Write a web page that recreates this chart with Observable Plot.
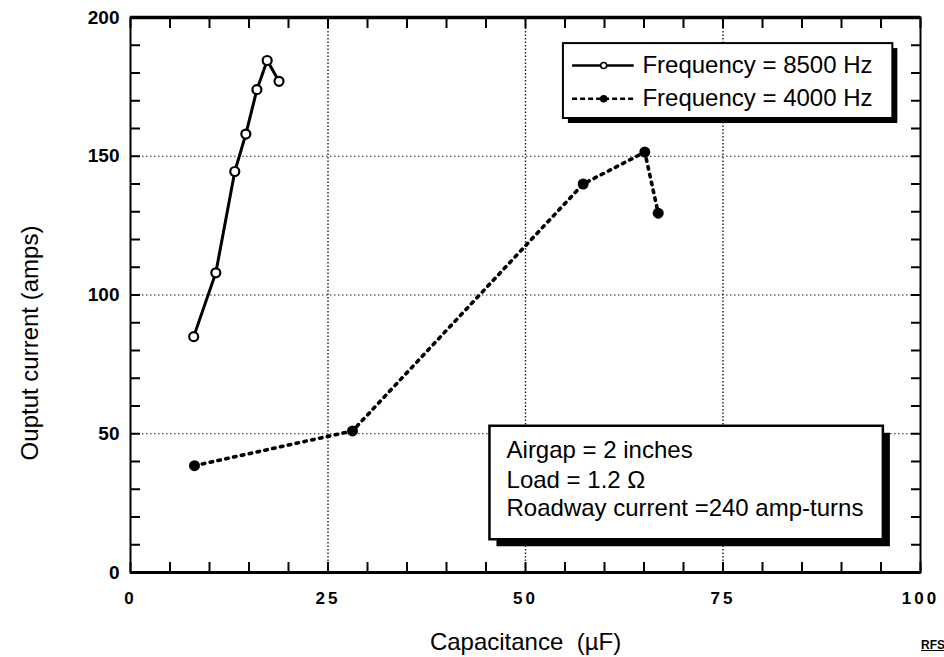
<!DOCTYPE html>
<html>
<head>
<meta charset="utf-8">
<script src="https://cdn.jsdelivr.net/npm/d3@7"></script>
<script src="https://cdn.jsdelivr.net/npm/@observablehq/plot@0.6"></script>
<style>
  html, body { margin: 0; padding: 0; background: #fff; }
  #chart { position: relative; width: 944px; height: 657px; overflow: hidden; }
  #chart svg { display: block; }
  #chart g[aria-label="x-axis tick label"] text { letter-spacing: 3px; }
  #stamp {
    position: absolute; left: 921px; top: 638px;
    font: bold 12px "Liberation Sans", Arial, sans-serif;
    text-decoration: underline; color: #000; white-space: nowrap;
  }
</style>
</head>
<body>
<div id="chart"><span id="stamp">RFS</span></div>
<script>
// Output current versus tuning capacitance, two drive frequencies
const seriesNames = ["Frequency = 8500 Hz", "Frequency = 4000 Hz"];

const cap8500  = [8.0, 10.8, 13.2, 14.6, 16.0, 17.3, 18.8];
const amps8500 = [85, 108, 144.5, 158, 174, 184.5, 177];

const cap4000  = [8.1, 28.1, 57.3, 65.1, 66.8];
const amps4000 = [38.5, 51, 140, 151.5, 129.5];

const xMajorTicks = [0, 25, 50, 75, 100];
const yMajorTicks = [0, 50, 100, 150, 200];
const xMinorTicks = d3.range(0, 101, 5);
const yMinorTicks = d3.range(0, 201, 10);

const xTitle = "Capacitance  (\u00b5F)";
const yTitle = "Ouptut current (amps)";
const noteLines = ["Airgap = 2 inches", "Load = 1.2 \u03a9", "Roadway current =240 amp-turns"];

const s8500 = cap8500.map((c, i) => ({c, a: amps8500[i]}));
const s4000 = cap4000.map((c, i) => ({c, a: amps4000[i]}));

// legend and note boxes, placed in data units
const legendBox = {x1: 54.8, x2: 96.5, y1: 163.6, y2: 190.6};
const legendSolid  = [{name: seriesNames[0], y: 182.7, x1: 55.9, x2: 63.7, xm: 59.9, xt: 64.8}];
const legendDashed = [{name: seriesNames[1], y: 170.7, x1: 55.9, x2: 63.7, xm: 59.9, xt: 64.8}];
const noteBox = {x1: 45.5, x2: 95.3, y1: 11.8, y2: 52.7};
const noteRows = noteLines.map((t, i) => ({t, x: 47.6, y: [44.0, 33.2, 23.2][i]}));

const font = "'Liberation Sans', Arial, Helvetica, sans-serif";
const noTickText = () => "";

const chart = Plot.plot({
  width: 944,
  height: 657,
  marginTop: 17,
  marginRight: 24,
  marginBottom: 85,
  marginLeft: 130,
  style: {fontFamily: font, background: "#fff", color: "#000", overflow: "visible"},
  x: {domain: [0, 100]},
  y: {domain: [0, 200]},
  marks: [
    // dotted grid
    Plot.gridY([50, 100, 150], {stroke: "#000", strokeOpacity: 0.9, strokeWidth: 1.2, strokeDasharray: "1.5,2.5"}),
    Plot.gridX([25, 50, 75], {stroke: "#000", strokeOpacity: 0.9, strokeWidth: 1.4, strokeDasharray: "1.5,2"}),

    // inward ticks on all four sides
    Plot.axisX({anchor: "bottom", ticks: xMinorTicks, tickSize: -10, strokeWidth: 2, tickFormat: noTickText, label: null}),
    Plot.axisX({anchor: "top", ticks: xMinorTicks, tickSize: -10, strokeWidth: 2, tickFormat: noTickText, label: null}),
    Plot.axisY({anchor: "left", ticks: yMinorTicks, tickSize: -10, strokeWidth: 2, tickFormat: noTickText, label: null}),
    Plot.axisY({anchor: "right", ticks: yMinorTicks, tickSize: -10, strokeWidth: 2, tickFormat: noTickText, label: null}),

    // tick labels
    Plot.axisX({anchor: "bottom", ticks: xMajorTicks, tickSize: 0, tickPadding: 19, fontSize: 17, fontWeight: "bold", label: null}),
    Plot.axisY({anchor: "left", ticks: yMajorTicks, tickSize: 0, tickPadding: 11, fontSize: 19, fontWeight: "bold", label: null}),

    // frame
    Plot.frame({stroke: "#000", strokeWidth: 2}),
    Plot.ruleY([200], {stroke: "#000", strokeWidth: 3.5}),
    Plot.ruleY([0], {stroke: "#000", strokeWidth: 3}),

    // axis titles
    Plot.text([xTitle], {frameAnchor: "bottom", dy: 70, lineAnchor: "middle", textAnchor: "middle", fontSize: 24, text: d => d}),
    Plot.text([yTitle], {frameAnchor: "left", dx: -100, dy: 48, rotate: -90, lineAnchor: "middle", textAnchor: "middle", fontSize: 24, text: d => d}),

    // 4000 Hz series
    Plot.line(s4000, {x: "c", y: "a", stroke: "#000", strokeWidth: 3.6, strokeDasharray: "2.5,5.5", strokeLinecap: "round"}),
    Plot.dot(s4000, {x: "c", y: "a", r: 5.5, fill: "#000", stroke: "none"}),

    // 8500 Hz series
    Plot.line(s8500, {x: "c", y: "a", stroke: "#000", strokeWidth: 3}),
    Plot.dot(s8500, {x: "c", y: "a", r: 4.5, fill: "#fff", stroke: "#000", strokeWidth: 2.2}),

    // legend box with drop shadow
    Plot.rect([legendBox], {x1: "x1", x2: "x2", y1: "y1", y2: "y2", fill: "#000", dx: 5, dy: 5}),
    Plot.rect([legendBox], {x1: "x1", x2: "x2", y1: "y1", y2: "y2", fill: "#fff", stroke: "#000", strokeWidth: 2}),
    Plot.link(legendSolid, {x1: "x1", x2: "x2", y1: "y", y2: "y", stroke: "#000", strokeWidth: 2.6}),
    Plot.dot(legendSolid, {x: "xm", y: "y", r: 3, fill: "#fff", stroke: "#000", strokeWidth: 1.6}),
    Plot.link(legendDashed, {x1: "x1", x2: "x2", y1: "y", y2: "y", stroke: "#000", strokeWidth: 2.6, strokeDasharray: "5,3"}),
    Plot.dot(legendDashed, {x: "xm", y: "y", r: 3.8, fill: "#000", stroke: "none"}),
    Plot.text([...legendSolid, ...legendDashed], {x: "xt", y: "y", text: "name", textAnchor: "start", fontSize: 24}),

    // note box with drop shadow
    Plot.rect([noteBox], {x1: "x1", x2: "x2", y1: "y1", y2: "y2", fill: "#000", dx: 7, dy: 7}),
    Plot.rect([noteBox], {x1: "x1", x2: "x2", y1: "y1", y2: "y2", fill: "#fff", stroke: "#000", strokeWidth: 2.5}),
    Plot.text(noteRows, {x: "x", y: "y", text: "t", textAnchor: "start", fontSize: 24})
  ]
});

document.getElementById("chart").prepend(chart);
</script>
</body>
</html>
